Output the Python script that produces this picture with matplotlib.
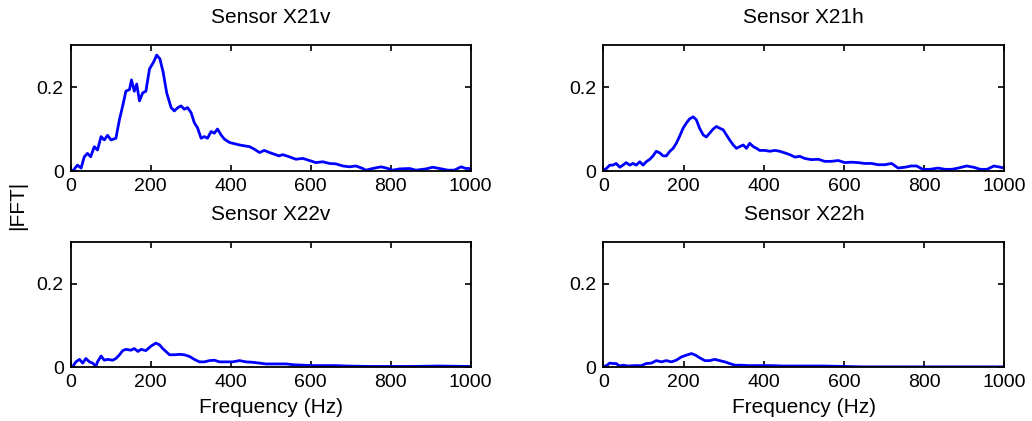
import matplotlib
matplotlib.use("Agg")
import matplotlib.pyplot as plt

plt.rcParams['font.family'] = ['Liberation Sans', 'DejaVu Sans']

titles = ["Sensor X21v", "Sensor X21h", "Sensor X22v", "Sensor X22h"]
xticks = [0, 200, 400, 600, 800, 1000]
yticks = [0, 0.2]
yticklabels = ["0", "0.2"]

f_x21v = [0, 5, 17, 26, 34, 42, 50, 59, 67, 76, 84, 92, 101, 113, 122, 130, 138, 147, 152, 159,
          165, 172, 180, 188, 197, 207, 215, 223, 231, 240, 251, 259, 268, 276, 284, 292, 301,
          309, 317, 326, 334, 342, 351, 359, 367, 376, 384, 397, 409, 422, 434, 447, 459, 472,
          484, 497, 509, 521, 530, 546, 563, 580, 597, 613, 630, 647, 663, 680, 697, 713, 730,
          738, 755, 776, 793, 805, 822, 847, 863, 888, 905, 922, 943, 959, 976, 988, 1000]
v_x21v = [0.002, 0.0, 0.014, 0.007, 0.034, 0.042, 0.034, 0.058, 0.050, 0.082, 0.074, 0.085,
          0.074, 0.078, 0.123, 0.155, 0.190, 0.194, 0.217, 0.190, 0.207, 0.167, 0.186, 0.190,
          0.243, 0.259, 0.276, 0.267, 0.236, 0.186, 0.151, 0.143, 0.151, 0.155, 0.147, 0.151,
          0.139, 0.115, 0.103, 0.078, 0.082, 0.078, 0.094, 0.090, 0.100, 0.086, 0.076, 0.068,
          0.065, 0.062, 0.060, 0.058, 0.052, 0.044, 0.049, 0.044, 0.040, 0.036, 0.039, 0.034,
          0.028, 0.030, 0.025, 0.020, 0.022, 0.018, 0.017, 0.012, 0.010, 0.012, 0.006, 0.002,
          0.006, 0.010, 0.006, 0.002, 0.005, 0.006, 0.002, 0.005, 0.009, 0.006, 0.002, 0.002,
          0.010, 0.006, 0.006]

f_x21h = [0, 8, 16, 24, 32, 41, 49, 57, 66, 74, 82, 91, 99, 107, 116, 124, 132, 141, 149, 157,
          166, 174, 182, 190, 199, 207, 215, 224, 232, 240, 249, 257, 265, 274, 282, 290, 299,
          307, 315, 324, 332, 340, 349, 357, 365, 374, 382, 390, 403, 415, 428, 440, 453, 465,
          478, 490, 502, 519, 536, 552, 569, 586, 602, 619, 636, 652, 669, 685, 702, 719, 735,
          752, 768, 781, 797, 814, 835, 852, 869, 885, 906, 923, 940, 957, 974, 985, 1000]
v_x21h = [0.002, 0.006, 0.014, 0.014, 0.018, 0.009, 0.014, 0.020, 0.014, 0.018, 0.014, 0.022,
          0.014, 0.022, 0.028, 0.036, 0.047, 0.043, 0.036, 0.036, 0.047, 0.054, 0.066, 0.082,
          0.102, 0.114, 0.124, 0.129, 0.122, 0.102, 0.086, 0.081, 0.090, 0.100, 0.106, 0.102,
          0.098, 0.086, 0.074, 0.062, 0.054, 0.058, 0.062, 0.054, 0.066, 0.058, 0.054, 0.049,
          0.049, 0.047, 0.049, 0.047, 0.043, 0.039, 0.033, 0.035, 0.030, 0.027, 0.028, 0.023,
          0.023, 0.025, 0.020, 0.021, 0.020, 0.018, 0.018, 0.015, 0.015, 0.018, 0.007, 0.009,
          0.012, 0.012, 0.004, 0.004, 0.007, 0.004, 0.004, 0.007, 0.012, 0.009, 0.004, 0.004,
          0.012, 0.010, 0.007]

f_x22v = [0, 5, 13, 22, 30, 38, 47, 55, 63, 67, 76, 84, 92, 105, 113, 122, 130, 138, 151, 159,
          168, 176, 188, 201, 213, 222, 230, 238, 247, 259, 272, 284, 297, 309, 322, 334, 347,
          359, 372, 388, 405, 422, 438, 455, 472, 488, 509, 540, 557, 606, 665, 690, 750, 850,
          920, 1000]
v_x22v = [0.0, 0.002, 0.013, 0.019, 0.010, 0.021, 0.013, 0.010, 0.002, 0.013, 0.027, 0.017,
          0.019, 0.017, 0.021, 0.030, 0.040, 0.043, 0.041, 0.045, 0.038, 0.043, 0.040, 0.051,
          0.058, 0.054, 0.045, 0.038, 0.030, 0.030, 0.031, 0.030, 0.026, 0.019, 0.013, 0.013,
          0.016, 0.017, 0.013, 0.013, 0.013, 0.016, 0.013, 0.012, 0.010, 0.008, 0.008, 0.008,
          0.006, 0.004, 0.004, 0.003, 0.002, 0.002, 0.003, 0.002]

f_x22h = [0, 8, 16, 24, 32, 41, 49, 62, 78, 95, 107, 120, 132, 145, 157, 170, 182, 195, 207,
          220, 230, 240, 253, 265, 278, 290, 303, 315, 328, 344, 361, 386, 419, 452, 502, 550,
          600, 650, 750, 850, 950, 1000]
v_x22h = [0.002, 0.004, 0.010, 0.009, 0.009, 0.003, 0.005, 0.003, 0.004, 0.004, 0.009, 0.010,
          0.016, 0.013, 0.016, 0.013, 0.017, 0.025, 0.029, 0.033, 0.029, 0.023, 0.016, 0.016,
          0.019, 0.016, 0.013, 0.009, 0.005, 0.005, 0.004, 0.004, 0.004, 0.003, 0.003, 0.003,
          0.002, 0.001, 0.001, 0.001, 0.001, 0.001]

series = [(f_x21v, v_x21v), (f_x21h, v_x21h), (f_x22v, v_x22v), (f_x22h, v_x22h)]

fig = plt.figure(figsize=(10.32, 4.21), dpi=100)
positions = [
    [0.0685, 0.5938, 0.3876, 0.2993],
    [0.5846, 0.5938, 0.3886, 0.2993],
    [0.0685, 0.1276, 0.3876, 0.2969],
    [0.5846, 0.1276, 0.3886, 0.2969],
]

fs = 15
tfs = 14
for i, (pos, (f, v), t) in enumerate(zip(positions, series, titles)):
    ax = fig.add_axes(pos)
    ax.plot(f, v, color=(0, 0, 1), linewidth=2.0)
    ax.set_xlim(0, 1000)
    ax.set_ylim(0, 0.3)
    ax.set_xticks(xticks)
    ax.set_yticks(yticks)
    ax.set_yticklabels(yticklabels)
    ax.tick_params(direction='in', top=True, right=True, length=4.5, width=1.2,
                   labelsize=tfs, pad=5)
    for s in ax.spines.values():
        s.set_linewidth(1.3)
    ax.set_title(t, fontsize=fs, pad=16)
    if i >= 2:
        ax.set_xlabel("Frequency (Hz)", fontsize=fs, labelpad=5)

fig.text(0.017, 0.513, "|FFT|", rotation=90, fontsize=fs, ha='center', va='center')

fig.savefig("out.png", dpi=100)
